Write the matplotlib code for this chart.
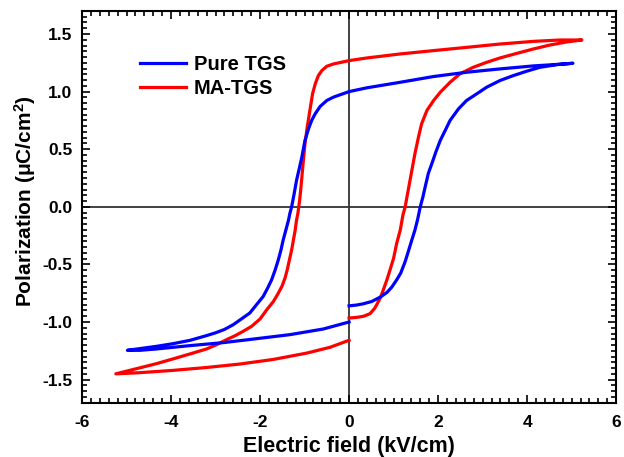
import matplotlib
matplotlib.use("Agg")
import matplotlib.pyplot as plt
from matplotlib.ticker import MultipleLocator

plt.rcParams['font.family'] = ['Liberation Sans', 'DejaVu Sans']
plt.rcParams['font.weight'] = 'bold'
plt.rcParams['axes.unicode_minus'] = False
plt.rcParams['mathtext.fontset'] = 'custom'
plt.rcParams['mathtext.rm'] = 'Liberation Sans:bold'
plt.rcParams['mathtext.it'] = 'Liberation Sans:bold'
plt.rcParams['mathtext.bf'] = 'Liberation Sans:bold'

# Pure TGS loop: rising branch, falling branch, return to zero
pure_E = [0, 0.17, 0.32, 0.51, 0.70, 0.85, 0.96, 1.07, 1.16, 1.26, 1.33, 1.41, 1.48, 1.54, 1.60,
          1.66, 1.71, 1.78, 1.86, 1.95, 2.05, 2.16, 2.27, 2.46, 2.64, 2.87, 3.09, 3.39, 3.69, 3.99, 4.29, 4.67, 5.03,
          4.59, 4.14, 3.39, 2.64, 1.90, 1.15, 0.40, 0, -0.35, -0.50, -0.65, -0.76, -0.84, -0.91, -0.99, -1.06,
          -1.12, -1.18, -1.24, -1.29, -1.33, -1.36, -1.42, -1.48, -1.53, -1.59, -1.66, -1.74, -1.83, -1.93,
          -2.08, -2.23, -2.42, -2.60, -2.80, -3.00, -3.20, -3.57, -3.95, -4.32, -4.70, -4.98,
          -4.70, -4.32, -3.57, -2.82, -2.08, -1.33, -0.58, 0]
pure_P = [-0.86, -0.853, -0.842, -0.822, -0.784, -0.744, -0.697, -0.634, -0.576, -0.476, -0.389, -0.288, -0.202, -0.11, 0.0,
          0.087, 0.173, 0.289, 0.375, 0.476, 0.577, 0.663, 0.75, 0.851, 0.923, 0.981, 1.038, 1.096, 1.139, 1.177, 1.211, 1.234, 1.246,
          1.234, 1.223, 1.197, 1.168, 1.131, 1.081, 1.033, 1.0, 0.952, 0.923, 0.871, 0.808, 0.75, 0.678, 0.577, 0.433,
          0.33, 0.23, 0.10, 0.0, -0.058, -0.115, -0.202, -0.288, -0.375, -0.461, -0.548, -0.634, -0.706, -0.779,
          -0.85, -0.922, -0.974, -1.023, -1.065, -1.094, -1.118, -1.159, -1.188, -1.211, -1.231, -1.246,
          -1.246, -1.234, -1.205, -1.179, -1.145, -1.110, -1.061, -1.0]

# MA-TGS loop
ma_E = [0, 0.17, 0.32, 0.47, 0.58, 0.70, 0.77, 0.85, 0.92, 1.00, 1.07, 1.15, 1.21, 1.26, 1.37, 1.48, 1.56, 1.63,
        1.75, 1.90, 2.05, 2.27, 2.49, 2.79, 3.09, 3.39, 3.77, 4.14, 4.52, 4.89, 5.23,
        4.74, 4.14, 3.39, 2.64, 1.90, 1.15, 0.40, 0, -0.35, -0.50, -0.61, -0.69, -0.76, -0.82, -0.88, -0.94,
        -0.99, -1.04, -1.08, -1.11, -1.15, -1.18, -1.21, -1.25, -1.29, -1.34, -1.39, -1.44, -1.51, -1.61,
        -1.70, -1.85, -2.0, -2.19, -2.38, -2.56, -2.75, -2.97, -3.20, -3.57, -3.95, -4.32, -4.70, -5.24,
        -4.70, -3.95, -3.20, -2.45, -1.70, -0.95, -0.43, 0]
ma_P = [-0.966, -0.96, -0.951, -0.928, -0.879, -0.793, -0.721, -0.634, -0.548, -0.447, -0.317, -0.202, -0.072, 0.0, 0.231, 0.462, 0.606, 0.721,
        0.837, 0.923, 0.995, 1.081, 1.154, 1.211, 1.254, 1.292, 1.332, 1.37, 1.405, 1.431, 1.448,
        1.448, 1.436, 1.413, 1.384, 1.356, 1.327, 1.292, 1.269, 1.24, 1.22, 1.183, 1.139, 1.067, 0.981, 0.837, 0.692,
        0.548, 0.346, 0.173, 0.058, -0.058, -0.115, -0.202, -0.288, -0.375, -0.461, -0.548, -0.62, -0.692, -0.764,
        -0.822, -0.894, -0.974, -1.038, -1.081, -1.119, -1.153, -1.196, -1.234, -1.277, -1.32, -1.361, -1.398, -1.45,
        -1.44, -1.42, -1.395, -1.365, -1.325, -1.27, -1.22, -1.159]

fig = plt.figure(figsize=(6.24, 4.57), dpi=100)
ax = fig.add_axes([0.1314, 0.119, 0.856, 0.857])

ax.axhline(0, color='#333333', lw=1.3, zorder=1)
ax.axvline(0, color='#333333', lw=1.3, zorder=1)
ax.plot(pure_E, pure_P, color='#0000ff', lw=2.3, label='Pure TGS', zorder=3)
ax.plot(ma_E, ma_P, color='#ff0000', lw=2.3, label='MA-TGS', zorder=2)

ax.set_xlim(-6, 6)
ax.set_ylim(-1.7, 1.7)
ax.xaxis.set_major_locator(MultipleLocator(2))
ax.xaxis.set_minor_locator(MultipleLocator(0.2))
ax.yaxis.set_major_locator(MultipleLocator(0.5))
ax.yaxis.set_minor_locator(MultipleLocator(0.05))
ax.tick_params(which='both', direction='in', top=True, right=True, width=1.2)
ax.tick_params(which='major', length=6, labelsize=12.5)
ax.tick_params(axis='x', which='major', pad=9)
ax.tick_params(axis='y', which='major', pad=7)
ax.tick_params(which='minor', length=3.5)
for lab in ax.get_xticklabels() + ax.get_yticklabels():
    lab.set_fontweight('bold')
for s in ax.spines.values():
    s.set_linewidth(1.5)

ax.set_xlabel('Electric field (kV/cm)', fontsize=15.5, fontweight='bold', labelpad=4)
ax.set_ylabel('Polarization (μC/cm$^2$)', fontsize=15, fontweight='bold')
ax.yaxis.set_label_coords(-0.083, 0.515)

leg = ax.legend(loc='upper left', bbox_to_anchor=(0.075, 0.935), frameon=False,
                fontsize=14.5, handlelength=2.3, handletextpad=0.35, labelspacing=0.25)

fig.savefig('out.png', dpi=100)
